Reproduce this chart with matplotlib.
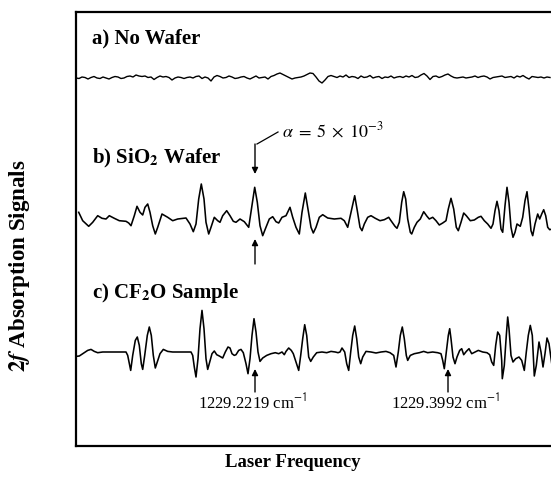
import matplotlib
matplotlib.use("Agg")
import matplotlib.pyplot as plt
import numpy as np

plt.rcParams['font.family'] = ['Liberation Serif', 'DejaVu Serif']
plt.rcParams['mathtext.fontset'] = 'stix'

# scan position (arbitrary units), signal (arbitrary units)
no_wafer_step = 3
no_wafer_y = [
    0, -0.5, 1, 0.5, -1, 0.5, 1.5, 0, -0.5, 1, 0, -1, 0.5, 1.5, 1, -0.5, 0, 1.5, 2, 1,
    3, 2, 1.5, 2, 0.5, 1, -1.5, 0.5, 2, 1, 1.5, 0.5, -2, 0, 1, 0.5, -0.5, 0.5, 1, 0,
    1.5, 2, -0.5, 1, 0, -3, 1, 2.5, 1.5, 0, 0.5, 2, 1, -0.5, 0, 1, 1.5, 0, -1, 0.5,
    2, 0, 0.5, 1, -1, 1.5, 2.5, 4, 5, 3.5, 2, 0.5, -1, 0, 0.5, 1, 2, 3.5, 5, 4.5,
    1, -3, -5, -2, 1.5, 2.5, 1.5, 0.5, 2, 1, 3, 0.5, 1.5, 1, -0.5, 2, 0.5, 1, 2.5, 0,
    1, 1.5, -0.5, 1, 0.5, 2, 0, 1, 1.5, 0.5, 2, 1, 2.5, 0.5, 1, 3, 4.5, 2, -1.5, 1.5,
    2, 0.5, 1.5, 3, 4, 2, 0.5, 0, 0.5, 1, 0, 0.5, 1, 2, 0.5, 1.5, 2, 1, -1, 0.5,
    1, 1.5, 2, 0.5, 1, 1.5, 0, 2, 1, 2.5, 0.5, -1, 1.5, 1, 0.5, 1, 0, 1, 0.5,
]

sio2_x = [
    2.7, 6.7, 12.7, 16.7, 21.7, 26, 30, 33.3, 38.3, 43.3, 50, 52.7, 55, 58.3, 61, 64,
    66.7, 69, 71.7, 74, 76.7, 79.3, 81.7, 86, 91.7, 96.7, 101.7, 110, 114, 117.3, 120,
    122.7, 125.3, 128, 130, 132.7, 135, 138.3, 141.7, 144, 146.7, 150.7, 154, 157.3,
    160, 164, 168.3, 172.7, 176, 178.7, 181.3, 184, 186.7, 189.3, 193.3, 196.7, 200,
    202.7, 206, 210, 214, 216.7, 220, 223.3, 226, 229.3, 232, 235, 237.3, 240, 243.3,
    246.7, 251.7, 258.3, 265, 268.3, 271.7, 275, 278.7, 281.3, 284, 286, 288.3, 291.7,
    295, 299.3, 304, 308.3, 312.7,
    315, 319, 321, 323.3, 325.7, 327.7, 329.7, 331.7, 334.3, 335.7, 338.3, 341, 344.3,
    347.7, 351, 353.3, 356.7, 360, 363.3, 366.7, 370, 372.3, 375, 377.7, 380.3, 382.3,
    385, 387.7, 390.3, 394.3, 398.3, 402.3, 405, 408.3, 411.7, 415, 417, 419, 421, 423,
    425, 426.7, 429, 431, 433, 435, 437, 439, 441, 444.3, 446.7, 449, 451, 453, 455,
    456.7, 459, 461.7, 463.7, 465.7, 467.7, 469.7, 471.7, 473.7, 476,
]
sio2_y = [
    6.7, -1.7, -7.3, -3.3, 3.3, 0.7, 0, 3.3, 0.7, -1.7, -2.3, -4, -6.7, 3.3, 12.7, 6.7,
    4, 11.7, 15, 6.7, -6.7, -15, -8.3, 5, 1.7, -1.7, 0, 1, -5, -12.7, -5,
    20, 35, 20, -3.3, -15, -8.3, 1.7, -1.7, -3.3, 3.3, 8.3, 3.3, -2.3,
    -3.3, 0, -2.7, -8.3, 13.3, 31.7, 16.7, -6.7, -16.7, -10, 0, 2.3, -2.7,
    -4, 1.7, 3.3, 11.7, 1.7, -8.3, -15, 6.7, 26, 10, -8.3, -14, -8.3, 1.7,
    4.3, 1, 0, 0.7, -1.7, -8.3, 6.7, 23.3, 8.3, -8.3, -11.7, -5, 1.7,
    3.3, 0.7, -1.7, -0.7, 1.7,
    -1.7, -7.3, -9.3, -3.3, 16.7, 27.3, 20, 0, -13.3, -15, -8.3, -3.3, 0,
    7.3, 2.7, 0, 1.7, -1.7, -6, -4, -1.7, 10, 20.7, 10, -8.3, -11.7,
    -3.3, 6, 3.3, -1.7, -1, 1.7, 2.7, -1.7, -5, -9.3, -5, 8.3, 17.7, 8.3,
    -10, -13.3, 13.3, 31.7, 16.7, -8.3, -18.3, -13.3, -5, -7.3, 1.7, 18.3, 27.3, 10, -11.7,
    -16.7, -5, 5, 0, 5, 9.3, 3.3, -8.3, -10.7, -10,
]

cf2o_x = [
    0, 3.3, 6.7, 11.7, 15, 18.3, 21.7, 26.7, 33.3, 43.3, 50, 51.7, 53.3, 54.7, 56.7,
    59.3, 61.3, 63.3, 65.3, 66.7, 68.7, 71.3, 73.3, 75.3, 77.3, 79.3, 81.3, 84, 87.3,
    91.7, 96.7, 103.3, 110, 115, 116.7, 118.3, 120, 122, 124, 126, 128, 130, 131.7,
    133.3, 136, 138.3, 140.7, 143.3, 146.7, 149.3, 152, 154, 156, 158.3,
    160, 162.7, 165, 167.3, 170, 172, 174, 176, 178, 180, 182, 184, 186.7, 190.7, 195,
    199.3, 202.7, 206, 208.3, 210, 212.7, 215.3, 217.3, 220, 222.7, 224.7, 226.7, 228.7,
    230.7, 232.7, 234.7, 237.3, 240.7, 246, 250.7, 255, 259.3, 262, 264, 266, 268.7,
    270.7, 272.7, 274.7, 276.7, 278.7, 280.7, 282.7, 284.7, 286.7, 290, 295, 300, 305,
    310, 314,
    317.7, 320, 322.3, 324.3, 326.3, 328.3, 330.3, 331.7, 334.3, 338.3, 343.3, 347.7,
    351.7, 356.7, 361.7, 365, 366.7, 368.3, 370.3, 372.3, 373.7, 375, 377, 379, 381,
    383.7, 385.7, 387.7, 390.3, 393, 395.7, 399, 402.3, 406.7, 411, 413.7, 415.7, 417.7,
    419.7, 421.7, 423.7, 425.7, 426.3, 428.3, 430.3, 431.7, 433, 435, 437, 439.7, 443,
    445.7, 448.3, 450.3, 452.3, 454.3, 456.3, 458.3, 460.3, 463, 465, 467, 469, 471,
    473, 476,
]
cf2o_y = [
    -4.4, -4, -1.7, 1.6, 2.6, 0.6, -0.7, 0, 0, 0, 0, -3.4, -11.7, -18.4, -3.4,
    11.6, 15, 6.6, -11.7, -17.4, -3.4, 16.6, 25, 16.6, -3.4, -16, -10, -1.7, 2.6,
    0.6, 0, 0, 0, 0, -3.4, -15, -25, -6.7, 23.3, 41.6, 23.3, -6.7, -17.4,
    -11.7, -1.7, 1, -2.7, -4, -6, 0, 5, 4, -1.7, -3.4,
    -2.7, 1.6, 2.6, -0.7, -11.7, -21.7, -6.7, 16.6, 33.3, 20, 0, -9.4, -6, -3.4, -1.7,
    -0.7, -1.7, 0, -2.7, 0.6, 4, 1.6, -1.7, -10, -18.4, -3.4, 13.3, 27.3,
    16.6, -5, -9.4, -5, -0.7, 0, -0.7, 0.6, 0, -0.7, 0, 4, 0,
    -11.7, -18.4, 0, 16.6, 26, 13.3, -5, -11.7, -5, 0.6, 0, -1, 0,
    0.6, -0.7,
    -3.4, -15, 0, 16.6, 25, 13.3, -3.4, -8.4, -3.4, -1.7, -0.7, 0.6,
    -0.7, 0, -0.7, -1.7, -8.4, -16.7, 0, 16.6, 23.3, 13.3, -5, -11.7, -5,
    1.6, 3.3, -2.7, 0.6, 3.3, -1.7, 0, 1.6, 0, -0.7, -2.7, -10, -13.4,
    6.6, 20, 16.6, -8.4, -26.7, -13.4, 16.6, 35, 23.3, -3.4, -10, -6.7, -5,
    -8.4, -18.4, 0, 16.6, 26.6, 16.6, -24, -13.4, 10, 0, -15, -1.7, 14,
    8.3, -13.4,
]

panel_labels = ["a) No Wafer", r"b) SiO$_\mathbf{2}$ Wafer", r"c) CF$_\mathbf{2}$O Sample"]
line_labels = [r"1229.2219 cm$^{\mathsf{-1}}$", r"1229.3992 cm$^{\mathsf{-1}}$"]
line_pos = [179, 372]

fig = plt.figure(figsize=(5.51, 4.81), dpi=100)
ax = fig.add_axes([76 / 551, 34 / 481, 476 / 551, 434 / 481])
ax.set_xlim(0, 476)
ax.set_ylim(0, 434)

offsets = [368, 227, 94]
xa = np.arange(len(no_wafer_y)) * no_wafer_step
ax.plot(xa, np.array(no_wafer_y) + offsets[0], color='black', lw=1.0)
ax.plot(sio2_x, np.array(sio2_y) + offsets[1], color='black', lw=1.15, solid_joinstyle='round')
ax.plot(cf2o_x, np.array(cf2o_y) + offsets[2], color='black', lw=1.15, solid_joinstyle='round')

for s in ['left', 'top', 'bottom']:
    ax.spines[s].set_linewidth(1.6)
ax.spines['right'].set_visible(False)
ax.set_xticks([])
ax.set_yticks([])

for lab, yb in zip(panel_labels, [404, 284, 149]):
    ax.text(16, yb, lab, fontsize=15, fontweight='bold', va='baseline', ha='left')

# alpha marker on the SiO2 trace
ax.text(206, 310, r"$\alpha\;=\;5\;\times\;10^{-3}$", fontsize=13, va='baseline', ha='left')
ax.plot([202, 181], [314, 302], color='black', lw=0.9)
arrow = dict(arrowstyle='-|>', color='black', lw=1.0, mutation_scale=9, shrinkA=0, shrinkB=0)
ax.annotate("", xy=(line_pos[0], 272), xytext=(line_pos[0], 302), arrowprops=arrow)
ax.annotate("", xy=(line_pos[0], 207), xytext=(line_pos[0], 182), arrowprops=arrow)

for lab, xp in zip(line_labels, line_pos):
    ax.annotate("", xy=(xp, 77), xytext=(xp, 54), arrowprops=arrow)
    ax.text(xp - 3, 44, lab, fontsize=12, ha='center', va='center')

fig.text(20 / 551, 1 - 266 / 481, r"$\mathbf{2}\mathbfit{f}$ Absorption Signals",
         rotation=90, fontsize=16.5, fontweight='bold', ha='center', va='center')
fig.text(293 / 551, 1 - 463 / 481, "Laser Frequency", fontsize=13.5, fontweight='bold',
         ha='center', va='center')

fig.savefig("out.png", dpi=100)
